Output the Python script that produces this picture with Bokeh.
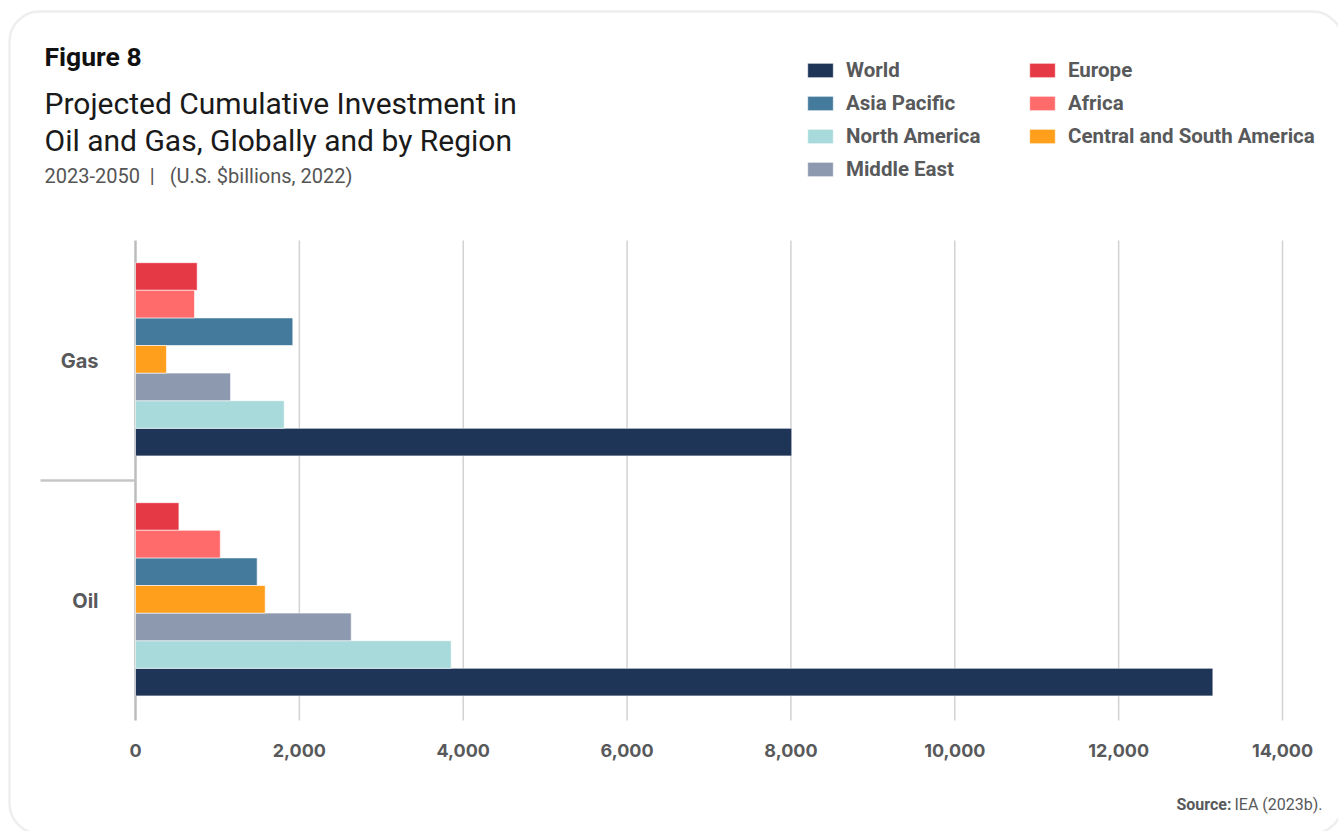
from bokeh.plotting import figure
from bokeh.models import (ColumnDataSource, Legend, LegendItem, Label,
                          BoxAnnotation, Range1d)
from bokeh.core.properties import value
from bokeh.embed import file_html
from bokeh.resources import INLINE

# ---------------- data ----------------
categories = ["Gas", "Oil"]
regions = ["World", "Asia Pacific", "North America", "Middle East",
           "Europe", "Africa", "Central and South America"]
gas_values = [8010, 1920, 1815, 1160, 753, 720, 378]
oil_values = [13150, 1485, 3853, 2633, 530, 1035, 1583]
colors = ["#1e3557", "#447a9c", "#a8dadc", "#8d99ae",
          "#e63946", "#ff6b6b", "#ff9f1c"]
# visual stacking order inside each group (top to bottom)
stack_order = ["Europe", "Africa", "Asia Pacific", "Central and South America",
               "Middle East", "North America", "World"]
x_ticks = [0, 2000, 4000, 6000, 8000, 10000, 12000, 14000]
tick_labels = ["0", "2,000", "4,000", "6,000", "8,000", "10,000", "12,000", "14,000"]

FONT = "Roboto"
NUMFONT = "Inter"
GREY = "#58595b"
W, H = 1338, 831
NB = "\u00a0"

# the frame fills the whole canvas; the chart area spans x 0..14000, y 0..2
p = figure(width=W, height=H, output_backend="svg", toolbar_location=None,
           x_range=Range1d(-1647.8, 14683.5), y_range=Range1d(-0.4625, 3.0),
           x_axis_location=None, y_axis_location=None,
           min_border=0, outline_line_color=None,
           background_fill_color="white", border_fill_color="white")
p.xgrid.visible = False
p.ygrid.visible = False

# card border
p.add_layout(BoxAnnotation(left=9, right=1342, top=H - 11, bottom=H - 833,
                           left_units="screen", right_units="screen",
                           top_units="screen", bottom_units="screen",
                           fill_color=None, line_color="#c6c6c6", line_width=2.5,
                           border_radius=30, level="underlay"))

# gridlines and value axis line
p.segment(x0=x_ticks[1:], y0=0, x1=x_ticks[1:], y1=2,
          line_color="#d2d2d2", line_width=1.5)
p.segment(x0=[0], y0=[0], x1=[0], y1=[2], line_color="#bdbdbd", line_width=2.5)
# category separator on the left
p.segment(x0=[-1159.5], y0=[1], x1=[0], y1=[1], line_color="#c6c6c6", line_width=2.5)

cat_center = {"Gas": 1.5, "Oil": 0.5}
bar_h = 0.115
renderers = {}
for i, reg in enumerate(regions):
    k = stack_order.index(reg)
    off = (3 - k) * bar_h + 0.005
    src = ColumnDataSource(dict(
        y=[cat_center[c] + off for c in categories],
        right=[gas_values[i], oil_values[i]],
    ))
    r = p.hbar(y="y", left=0, right="right", height=bar_h, source=src,
               fill_color=colors[i], line_color="white", line_width=0.6)
    renderers[reg] = r

# value tick labels
p.text(x=x_ticks, y=[0] * len(x_ticks), text=tick_labels, y_offset=30,
       text_align="center", text_baseline="middle",
       text_font=value(NUMFONT), text_font_style="bold", text_font_size="18px",
       text_color=GREY)

# category labels
p.text(x=[0, 0], y=[cat_center[c] for c in categories], text=categories,
       x_offset=-37, text_align="right", text_baseline="middle",
       text_font=value(NUMFONT), text_font_style="bold", text_font_size="20px",
       text_color=GREY)

# legends (two columns)
def make_legend(names, loc):
    leg = Legend(items=[LegendItem(label=n, renderers=[renderers[n]]) for n in names],
                 location=loc, orientation="vertical",
                 glyph_width=32, glyph_height=18, label_height=24,
                 label_standoff=10, spacing=9, padding=0, margin=0,
                 border_line_color=None, background_fill_alpha=0,
                 label_text_font=FONT, label_text_font_style="bold",
                 label_text_font_size="20.5px", label_text_color=GREY)
    p.add_layout(leg)

make_legend(regions[:4], (804, H - 58 - 123))
make_legend(regions[4:], (1026, H - 58 - 90))

# titles
def lab(x, y, text, size, style="normal", color="black", align="left"):
    p.add_layout(Label(x=x, y=H - y, x_units="screen", y_units="screen", text=text,
                       text_font=FONT, text_font_style=style, text_font_size=size,
                       text_color=color, text_align=align, text_baseline="alphabetic"))

lab(44, 56, "Figure 8", "26.5px", "bold", "#111111")
lab(44, 103, "Projected Cumulative Investment in", "30px", color="#1a1a1a")
lab(44, 140, "Oil and Gas, Globally and by Region", "30px", color="#1a1a1a")
lab(44, 175, "2023-2050" + NB * 2 + "|" + NB * 3 + "(U.S. $billions, 2022)", "20px",
    color="#555555")
lab(1231, 804, "Source:", "16px", "bold", GREY, "right")
lab(1234, 804, "IEA (2023b).", "16px", "normal", GREY, "left")

open("out.html", "w").write(file_html(p, INLINE))
